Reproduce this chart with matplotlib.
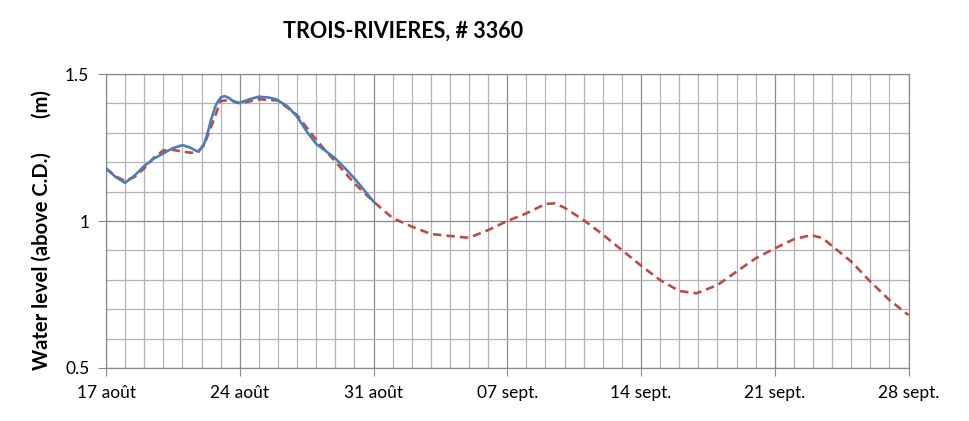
import numpy as np
import pandas as pd
import matplotlib
matplotlib.use("Agg")
import matplotlib.pyplot as plt
from matplotlib.ticker import MultipleLocator

plt.rcParams["font.family"] = ["Lato", "DejaVu Sans"]

# days since 17 août
obs_days = [0, 0.5, 1.0, 1.5, 2.0, 2.5, 3.0, 3.5, 4.0, 4.4, 4.8, 5.1, 5.3, 5.5, 5.75, 6.0, 6.2, 6.45,
            6.7, 7.0, 7.5, 8.0, 8.5, 8.9, 9.5, 10.0, 10.5, 11.0, 11.5, 12.0, 12.5, 13.0, 13.5, 14.0]
obs_level = [1.179, 1.150, 1.130, 1.155, 1.187, 1.212, 1.230, 1.248, 1.258, 1.250, 1.236, 1.255, 1.295,
             1.345, 1.395, 1.420, 1.425, 1.418, 1.405, 1.402, 1.414, 1.423, 1.420, 1.414, 1.390,
             1.355, 1.305, 1.262, 1.238, 1.213, 1.180, 1.145, 1.106, 1.066]

fc_days = [0, 0.5, 1.0, 1.5, 2.0, 2.5, 3.0, 3.5, 4.0, 4.5, 4.85, 5.2, 5.5, 6.0, 6.5, 7.0, 8.0, 9.0,
           10.0, 11.0, 12.0, 13.0, 14.0, 15.0, 16.0, 17.0, 18.0, 19.0, 20.0, 21.0, 22.0, 23.0,
           23.5, 24.0, 25.0, 26.0, 27.0, 28.0, 29.0, 30.0, 30.9, 32.0, 33.0, 34.0, 35.0, 36.0,
           36.9, 37.5, 38.0, 39.0, 40.0, 41.0, 42.0]
fc_level = [1.179, 1.152, 1.136, 1.150, 1.179, 1.215, 1.240, 1.242, 1.236, 1.232, 1.236, 1.270,
            1.320, 1.408, 1.412, 1.400, 1.414, 1.410, 1.360, 1.276, 1.202, 1.128, 1.066, 1.010,
            0.981, 0.956, 0.949, 0.943, 0.969, 1.000, 1.026, 1.058, 1.060, 1.045, 1.003, 0.954,
            0.901, 0.848, 0.799, 0.762, 0.754, 0.782, 0.828, 0.873, 0.907, 0.938, 0.952, 0.942,
            0.915, 0.862, 0.794, 0.731, 0.680]

tick_days = [0, 7, 14, 21, 28, 35, 42]
tick_labels = ["17 août", "24 août", "31 août", "07 sept.", "14 sept.", "21 sept.", "28 sept."]

fig = plt.figure(figsize=(9.69, 4.21), dpi=100)
ax = fig.add_axes([0.1094, 0.1259, 0.8282, 0.6983])

ax.plot(fc_days, fc_level, color="#be4b48", lw=1.9, ls=(0, (3.2, 1.9)), zorder=3)
ax.plot(obs_days, obs_level, color="#4a7ebb", lw=1.9, zorder=4)

ax.set_xlim(0, 42)
ax.set_ylim(0.5, 1.5)
ax.set_xticks(tick_days)
ax.set_xticklabels(tick_labels)
ax.set_yticks([0.5, 1.0, 1.5])
ax.set_yticklabels(["0.5", "1", "1.5"])
ax.xaxis.set_minor_locator(MultipleLocator(1))
ax.yaxis.set_minor_locator(MultipleLocator(0.1))

ax.grid(which="minor", color="#b4b4b4", lw=0.9)
ax.grid(which="major", color="#8a8a8a", lw=0.9)
ax.set_axisbelow(True)
ax.tick_params(which="minor", length=0)
ax.tick_params(which="major", length=6, color="#8a8a8a", labelsize=12.5, pad=6)
for s in ax.spines.values():
    s.set_color("#8a8a8a")
    s.set_linewidth(0.9)

fig.text(0.416, 0.926, "TROIS-RIVIERES, # 3360", ha="center", va="center",
         fontsize=15.5, fontweight="bold")
fig.text(0.043, 0.454, "Water level (above C.D.)       (m)", rotation=90,
         ha="center", va="center", fontsize=14.5, fontweight="bold")

fig.savefig("out.png", dpi=100)
